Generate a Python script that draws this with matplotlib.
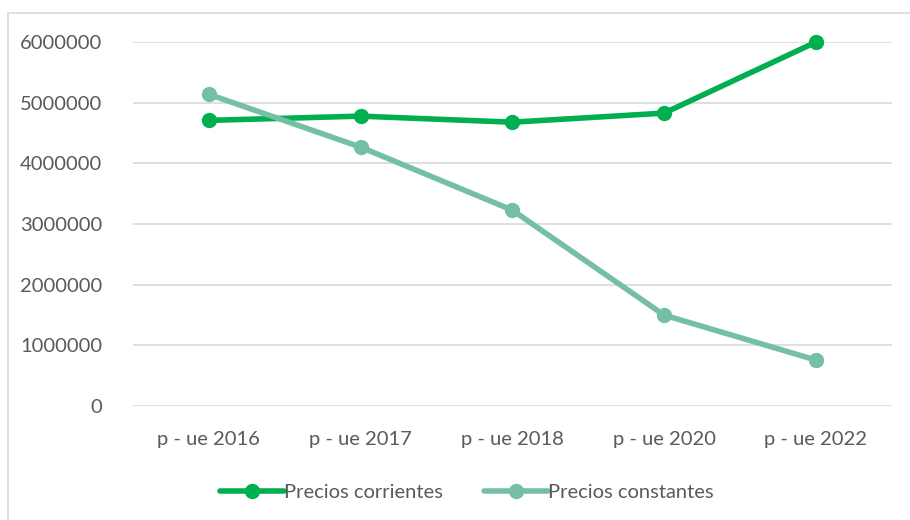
import matplotlib.pyplot as plt
from matplotlib.patches import Rectangle

categorias = ["p - ue 2016", "p - ue 2017", "p - ue 2018", "p - ue 2020", "p - ue 2022"]
precios_corrientes = [4710000, 4780000, 4680000, 4830000, 6000000]
precios_constantes = [5140000, 4270000, 3230000, 1500000, 760000]

plt.rcParams['font.family'] = ['Lato', 'DejaVu Sans']
gris = '#595959'

fig = plt.figure(figsize=(9.1, 5.2), dpi=100)
ax = fig.add_axes([0.146, 0.219, 0.834, 0.70])

# marco exterior del grafico
fig.patches.append(Rectangle((8 / 910, -0.01), 1.0, 1 - 13 / 520 + 0.01,
                             transform=fig.transFigure, fill=False,
                             edgecolor='#d9d9d9', linewidth=1.2))

x = range(len(categorias))
ax.plot(x, precios_corrientes, color='#00B050', lw=4, marker='o', ms=10,
        label='Precios corrientes', solid_capstyle='round', clip_on=False)
ax.plot(x, precios_constantes, color='#75BFA5', lw=4, marker='o', ms=10,
        label='Precios constantes', solid_capstyle='round', clip_on=False)

ax.set_xlim(-0.5, len(categorias) - 0.5)
ax.set_ylim(0, 6000000)
ax.set_yticks(range(0, 6000001, 1000000))
ax.set_yticklabels([str(v) for v in range(0, 6000001, 1000000)])
ax.set_xticks(list(x))
ax.set_xticklabels(categorias)
ax.tick_params(colors=gris, labelsize=14.5, length=0)
ax.tick_params(axis='y', pad=22)
ax.tick_params(axis='x', pad=18)
ax.grid(axis='y', color='#d9d9d9', lw=1.2)
ax.set_axisbelow(True)
for s in ax.spines.values():
    s.set_visible(False)

leg = ax.legend(loc='upper center', bbox_to_anchor=(0.44, -0.165), ncol=2,
                frameon=False, fontsize=14.5, handlelength=3.2,
                handletextpad=0.0, columnspacing=2.0)
for t in leg.get_texts():
    t.set_color(gris)

fig.savefig('out.png', dpi=100)
